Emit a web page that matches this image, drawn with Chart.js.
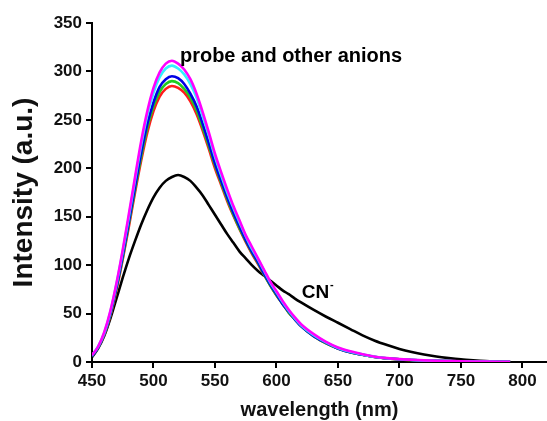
<!DOCTYPE html>
<html>
<head>
<meta charset="utf-8">
<script src="https://cdn.jsdelivr.net/npm/chart.js@4"></script>
<style>
  html, body { margin: 0; padding: 0; background: #fff; }
  #wrap { width: 547px; height: 421px; position: relative; }
</style>
</head>
<body>
<div id="wrap"><canvas id="spectraChart"></canvas></div>
<script>
// wavelengths (nm)
const wavelengths = [450,455,460,465,470,475,480,485,490,495,500,505,510,515,520,525,530,535,540,545,550,555,560,565,570,575,580,585,590,595,600,605,610,615,620,630,640,650,660,670,680,690,700,710,720,730,740,750,760,770,780,790];

// emission intensities
const redCurve = [6,15,28,48,75,106,140,175,208,237,259,274,282,285,283,278,269,256,239,220,200,183,166,151,137,124,112,101,90,79,69,60,51,44,37,27,19.5,14,10,7.4,5.1,3.7,2.7,2.1,1.6,1.2,0.9,0.7,0.5,0.4,0.3,0.2];
const greenCurve = [6,15,29,49,77,108,143,178,212,242,264,279,287,290,288,282,273,260,242,223,203,185,168,152,138,125,113,102,90,79,69,60,51,44,37,27,19.5,14,10,7.4,5.1,3.7,2.7,2.1,1.6,1.2,0.9,0.7,0.5,0.4,0.3,0.2];
const blueCurve = [6,15,29,50,78,110,145,181,216,246,268,284,292,295,293,287,277,264,246,226,205,187,170,154,140,126,114,103,91,80,70,60,52,44,37,27,20,14,10,7.5,5.2,3.8,2.8,2.1,1.6,1.2,0.9,0.7,0.5,0.4,0.3,0.2];
const cyanCurve = [7,16,30,52,81,114,150,188,224,255,278,294,303,306,303,297,287,273,254,234,212,193,175,159,144,130,117,106,94,82,72,62,53,45,38,28,20.5,14.5,10.5,7.8,5.4,3.9,2.9,2.2,1.6,1.2,0.9,0.7,0.5,0.4,0.3,0.2];
const magentaCurve = [7,16,31,53,82,116,153,191,228,259,283,299,308,311,308,302,292,277,258,237,215,196,178,161,146,131,119,107,95,83,73,63,54,46,39,29,21,15,11,8,5.5,4,3,2.3,1.7,1.3,1,0.7,0.5,0.4,0.3,0.2];
const cyanideCurve = [5,14,27,45,66,87,107,125,142,157,170,180,187,191,193,191,187,180,172,162,152,142,132,123,114,107,100,94,89,84,79,74,70,65.5,61.5,54,47,40.5,34,27.5,22,17.5,13.5,10.3,7.7,5.6,4,2.7,1.8,1.1,0.7,0.4];

const xTicks = [450,500,550,600,650,700,750,800];
const yTicks = [0,50,100,150,200,250,300,350];

const toPoints = (vals) => vals.map((v, i) => ({ x: wavelengths[i], y: v }));

// first entry is drawn on top
const seriesList = [
  { label: "probe", values: magentaCurve, color: "#ff00ff" },
  { label: "cyan", values: cyanCurve, color: "#33f0ff" },
  { label: "blue", values: blueCurve, color: "#0000e6" },
  { label: "green", values: greenCurve, color: "#1fcc1f" },
  { label: "red", values: redCurve, color: "#ff1a1a" },
  { label: "CN-", values: cyanideCurve, color: "#000000" },
];

// text labels inside the plot
const notes = [
  { text: "probe and other anions", x: 521.5, y: 315, size: 20 },
  { text: "CN", x: 620.5, y: 71, size: 19, sup: "-" },
];

const notePlugin = {
  id: "notes",
  afterDatasetsDraw(chart) {
    const ctx = chart.ctx;
    const xs = chart.scales.x, ys = chart.scales.y;
    ctx.save();
    ctx.fillStyle = "#000";
    ctx.textBaseline = "middle";
    ctx.textAlign = "left";
    notes.forEach((n) => {
      ctx.font = "bold " + n.size + "px 'Liberation Sans', Arial, sans-serif";
      const px = xs.getPixelForValue(n.x);
      const py = ys.getPixelForValue(n.y);
      ctx.fillText(n.text, px, py);
      if (n.sup) {
        const w = ctx.measureText(n.text).width;
        ctx.font = "bold 11px 'Liberation Sans', Arial, sans-serif";
        ctx.fillText(n.sup, px + w + 1, py - 8);
      }
    });
    ctx.restore();
  },
};

const tickFont = { family: "'Liberation Sans', Arial, sans-serif", size: 17, weight: "bold" };

new Chart(document.getElementById("spectraChart"), {
  type: "line",
  data: {
    datasets: seriesList.map((s) => ({
      label: s.label,
      data: toPoints(s.values),
      borderColor: s.color,
      borderWidth: 2.6,
      pointRadius: 0,
      fill: false,
      cubicInterpolationMode: "monotone",
    })),
  },
  options: {
    responsive: true,
    maintainAspectRatio: false,
    animation: false,
    layout: { padding: { top: 23, right: 0, left: 0, bottom: 0 } },
    plugins: {
      legend: { display: false },
      tooltip: { enabled: false },
    },
    scales: {
      x: {
        type: "linear",
        min: 450,
        max: 820,
        afterBuildTicks: (scale) => { scale.ticks = xTicks.map((v) => ({ value: v })); },
        afterFit: (scale) => { scale.height = 59; },
        border: { display: true, color: "#000", width: 2 },
        grid: { drawOnChartArea: false, drawTicks: true, tickLength: 6, color: "#000", lineWidth: 2 },
        ticks: { color: "#111", font: tickFont, padding: 3, maxRotation: 0 },
        title: {
          display: true,
          text: "wavelength (nm)",
          color: "#111",
          font: { family: "'Liberation Sans', Arial, sans-serif", size: 20, weight: "bold", lineHeight: 1.1 },
          padding: 0,
        },
      },
      y: {
        min: 0,
        max: 350,
        afterBuildTicks: (scale) => { scale.ticks = yTicks.map((v) => ({ value: v })); },
        afterFit: (scale) => { scale.width = 92; },
        border: { display: true, color: "#000", width: 2 },
        grid: { drawOnChartArea: false, drawTicks: true, tickLength: 6, color: "#000", lineWidth: 2 },
        ticks: { color: "#111", font: tickFont, padding: 4 },
        title: {
          display: true,
          text: "Intensity (a.u.)",
          color: "#111",
          font: { family: "'Liberation Sans', Arial, sans-serif", size: 28, weight: "bold", lineHeight: 1.2 },
          padding: { top: 7, bottom: 0 },
        },
      },
    },
  },
  plugins: [notePlugin],
});
</script>
</body>
</html>
